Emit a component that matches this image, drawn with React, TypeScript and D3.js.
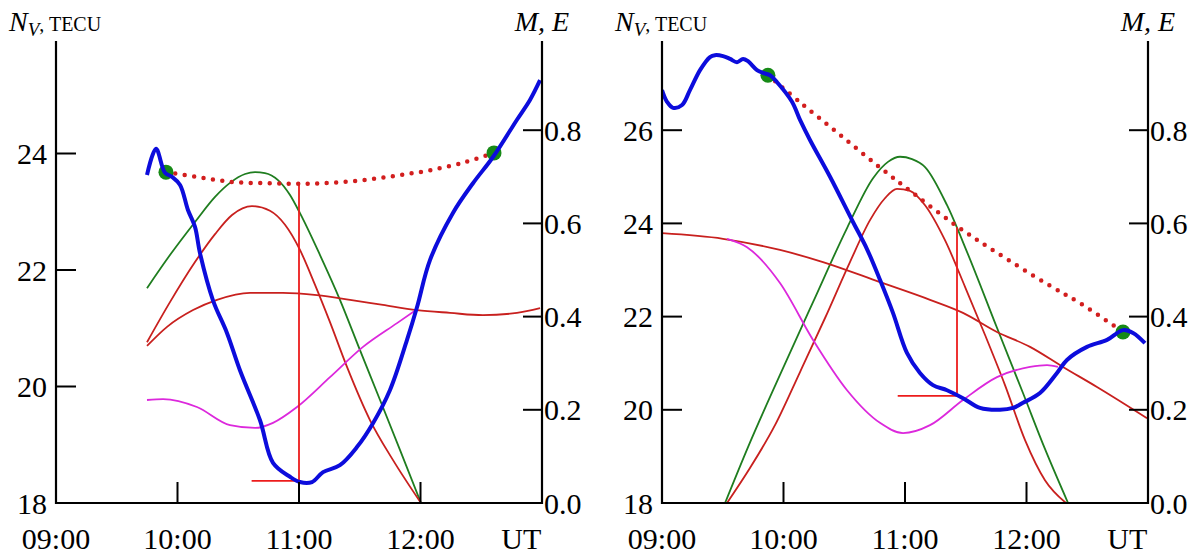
import React from "react";
import * as d3 from "d3";

type Pt = [number, number]; // [UT hour, value]

const FONT = "Liberation Serif";
const FONT_CSS = `svg.nv-chart text, svg.nv-chart tspan { font-family: "Liberation Serif", "Times New Roman", serif !important; }`;

// Shared axis ticks
const hourTicks = [10, 11, 12];
const hourLabels = ["09:00", "10:00", "11:00", "12:00"];
const meTicks = [0.2, 0.4, 0.6, 0.8];
const meLabels = [0, 0.2, 0.4, 0.6, 0.8];
const leftTecTicks = [20, 22, 24];
const leftTecLabels = [18, 20, 22, 24];
const rightTecTicks = [20, 22, 24, 26];
const rightTecLabels = [18, 20, 22, 24, 26];

// ---- Left panel ----
const leftTec: Pt[] = [
  [9.749, 23.63], [9.823, 24.08], [9.897, 23.67], [9.955, 23.6], [10.021, 23.46],
  [10.086, 23.03], [10.144, 22.74], [10.185, 22.29], [10.292, 21.48], [10.407, 20.92],
  [10.514, 20.28], [10.679, 19.42], [10.786, 18.69], [10.926, 18.45], [11.008, 18.36],
  [11.107, 18.36], [11.198, 18.53], [11.337, 18.65], [11.477, 18.96], [11.609, 19.37],
  [11.749, 19.94], [11.889, 20.8], [11.971, 21.36], [12.078, 22.17], [12.267, 22.98],
  [12.432, 23.49], [12.597, 23.94], [12.794, 24.58], [12.901, 24.92], [12.984, 25.26],
];
const leftTrend: Pt[] = [
  [9.905, 23.68], [10.185, 23.59], [10.457, 23.51], [10.737, 23.49], [11.008, 23.48],
  [11.28, 23.5], [11.56, 23.55], [11.83, 23.63], [12.1, 23.72], [12.38, 23.86], [12.605, 24.01],
];
const leftAnchors: Pt[] = [[9.905, 23.68], [12.605, 24.01]];
const leftGreen: Pt[] = [
  [9.749, 0.461], [9.938, 0.532], [10.144, 0.603], [10.309, 0.657], [10.432, 0.687],
  [10.556, 0.706], [10.638, 0.71], [10.72, 0.708], [10.827, 0.693], [10.926, 0.661],
  [11.008, 0.622], [11.173, 0.532], [11.337, 0.436], [11.502, 0.328], [11.667, 0.221],
  [11.831, 0.114], [12.004, 0.0],
];
const leftRedPeak: Pt[] = [
  [9.749, 0.345], [9.938, 0.431], [10.144, 0.517], [10.309, 0.577], [10.449, 0.618],
  [10.613, 0.637], [10.761, 0.627], [10.885, 0.597], [11.008, 0.543], [11.132, 0.468],
  [11.255, 0.388], [11.395, 0.292], [11.584, 0.178], [11.774, 0.092], [12.004, 0.0],
];
const leftRedFlat: Pt[] = [
  [9.749, 0.337], [9.914, 0.378], [10.128, 0.414], [10.325, 0.436], [10.597, 0.451],
  [10.868, 0.451], [11.148, 0.446], [11.42, 0.436], [11.691, 0.425], [11.971, 0.414],
  [12.243, 0.408], [12.514, 0.403], [12.794, 0.408], [12.984, 0.418],
];
const leftMagenta: Pt[] = [
  [9.749, 0.221], [9.881, 0.223], [10.16, 0.206], [10.432, 0.167], [10.638, 0.161],
  [10.786, 0.172], [10.984, 0.206], [11.255, 0.27], [11.527, 0.335], [11.807, 0.386],
  [11.963, 0.414],
];
// [segment start UT, marker UT, top TEC, bottom TEC]
const leftMarker = [10.61, 11.0, 23.48, 18.38];

// ---- Right panel ----
const rightTec: Pt[] = [
  [9.0, 26.86], [9.041, 26.61], [9.091, 26.48], [9.165, 26.54], [9.23, 26.86],
  [9.313, 27.29], [9.395, 27.57], [9.436, 27.61], [9.502, 27.59], [9.56, 27.53],
  [9.617, 27.46], [9.667, 27.53], [9.708, 27.48], [9.782, 27.29], [9.831, 27.23],
  [9.889, 27.18], [9.947, 27.03], [10.07, 26.61], [10.136, 26.22], [10.218, 25.79],
  [10.383, 25.0], [10.572, 24.03], [10.687, 23.45], [10.794, 22.79], [10.901, 22.08],
  [11.016, 21.22], [11.123, 20.79], [11.23, 20.53], [11.346, 20.42], [11.477, 20.25],
  [11.617, 20.04], [11.782, 20.0], [11.889, 20.04], [11.971, 20.15], [12.111, 20.36],
  [12.251, 20.79], [12.333, 21.07], [12.498, 21.35], [12.663, 21.5], [12.794, 21.71],
  [12.877, 21.65], [12.975, 21.43],
];
const rightTrend: Pt[] = [
  [9.872, 27.18], [10.136, 26.6], [10.465, 25.9], [10.794, 25.2], [11.066, 24.65],
  [11.428, 23.94], [11.757, 23.37], [12.169, 22.7], [12.44, 22.29], [12.794, 21.67],
];
const rightAnchors: Pt[] = [[9.872, 27.18], [12.794, 21.67]];
const rightGreen: Pt[] = [
  [9.519, 0.0], [9.708, 0.12], [9.971, 0.275], [10.243, 0.431], [10.523, 0.59],
  [10.737, 0.697], [10.86, 0.732], [10.959, 0.743], [11.058, 0.738], [11.165, 0.721],
  [11.346, 0.639], [11.51, 0.539], [11.757, 0.376], [11.971, 0.236], [12.152, 0.116],
  [12.342, 0.0],
];
const rightRedPeak: Pt[] = [
  [9.535, 0.0], [9.724, 0.075], [9.93, 0.167], [10.136, 0.281], [10.342, 0.397],
  [10.547, 0.517], [10.712, 0.607], [10.835, 0.654], [10.934, 0.674], [11.041, 0.67],
  [11.165, 0.639], [11.329, 0.564], [11.494, 0.464], [11.658, 0.361], [11.823, 0.253],
  [11.988, 0.135], [12.152, 0.049], [12.325, 0.0],
];
const rightRedFlat: Pt[] = [
  [9.0, 0.579], [9.502, 0.567], [9.971, 0.543], [10.325, 0.517], [10.794, 0.474],
  [11.206, 0.436], [11.477, 0.408], [11.757, 0.367], [12.029, 0.335], [12.3, 0.292],
  [12.58, 0.249], [12.992, 0.182],
];
const rightMagenta: Pt[] = [
  [9.535, 0.567], [9.7, 0.549], [9.971, 0.472], [10.243, 0.35], [10.523, 0.242],
  [10.794, 0.172], [10.984, 0.15], [11.206, 0.167], [11.477, 0.221], [11.757, 0.27],
  [12.029, 0.292], [12.169, 0.296], [12.259, 0.292],
];
const rightMarker = [10.94, 11.428, 23.92, 20.3];

const TOP = 37;
const BOTTOM = 503;
const AXIS_TOP = 41;

type PanelProps = {
  id: string;
  x0: number;
  x1: number;
  tecMax: number;
  tecTicks: number[];
  tecLabels: number[];
  tec: Pt[];
  trend: Pt[];
  anchors: Pt[];
  green: Pt[];
  redPeak: Pt[];
  redFlat: Pt[];
  magenta: Pt[];
  marker: number[];
};

function Panel(p: PanelProps) {
  const x = d3.scaleLinear().domain([9, 13]).range([p.x0, p.x1]);
  const yL = d3.scaleLinear().domain([18, p.tecMax]).range([BOTTOM, TOP]);
  const yR = d3.scaleLinear().domain([0, 1]).range([BOTTOM, TOP]);
  const lineL = d3.line<Pt>().x((d) => x(d[0])).y((d) => yL(d[1])).curve(d3.curveCatmullRom.alpha(0.5));
  const lineR = d3.line<Pt>().x((d) => x(d[0])).y((d) => yR(d[1])).curve(d3.curveMonotoneX);
  const [mStart, mT, mTop, mBottom] = p.marker;
  const clip = `clip-${p.id}`;
  const thin = 1.8;
  return (
    <g>
      <defs>
        <clipPath id={clip}>
          <rect x={p.x0} y={TOP - 10} width={p.x1 - p.x0} height={BOTTOM - TOP + 10} />
        </clipPath>
      </defs>
      <g clipPath={`url(#${clip})`}>
        <path d={lineR(p.green) || ""} fill="none" stroke="#1f7d1f" strokeWidth={thin} />
        <path d={lineR(p.redPeak) || ""} fill="none" stroke="#c8201e" strokeWidth={thin} />
        <path d={lineR(p.redFlat) || ""} fill="none" stroke="#c8201e" strokeWidth={thin} />
        <path d={lineR(p.magenta) || ""} fill="none" stroke="#dc28dc" strokeWidth={thin} />
        <line x1={x(mT)} x2={x(mT)} y1={yL(mTop)} y2={yL(mBottom)} stroke="#ec1c1c" strokeWidth={1.8} />
        <line x1={x(mStart)} x2={x(mT)} y1={yL(mBottom)} y2={yL(mBottom)} stroke="#ec1c1c" strokeWidth={1.8} />
        <path
          d={lineL(p.trend) || ""}
          fill="none"
          stroke="#d21e1e"
          strokeWidth={4.5}
          strokeLinecap="round"
          strokeDasharray="0 9.5"
        />
        {p.anchors.map((d, i) => (
          <circle key={i} cx={x(d[0])} cy={yL(d[1])} r={7.5} fill="#168a16" />
        ))}
        <path d={lineL(p.tec) || ""} fill="none" stroke="#0c0cdc" strokeWidth={4} strokeLinejoin="round" />
      </g>

      {/* axes frame */}
      <line x1={p.x0} x2={p.x0} y1={AXIS_TOP} y2={BOTTOM + 1} stroke="#000" strokeWidth={2.2} />
      <line x1={p.x1} x2={p.x1} y1={AXIS_TOP} y2={BOTTOM + 1} stroke="#000" strokeWidth={2.2} />
      <line x1={p.x0 - 1} x2={p.x1 + 1} y1={BOTTOM} y2={BOTTOM} stroke="#000" strokeWidth={2.2} />

      {p.tecTicks.map((t) => (
        <line key={`lt${t}`} x1={p.x0} x2={p.x0 + 20} y1={yL(t)} y2={yL(t)} stroke="#000" strokeWidth={2} />
      ))}
      {meTicks.map((t) => (
        <line key={`rt${t}`} x1={p.x1 - 19} x2={p.x1} y1={yR(t)} y2={yR(t)} stroke="#000" strokeWidth={2} />
      ))}
      {hourTicks.map((h) => (
        <line key={`bt${h}`} x1={x(h)} x2={x(h)} y1={BOTTOM} y2={BOTTOM - 21} stroke="#000" strokeWidth={2} />
      ))}

      {p.tecLabels.map((t) => (
        <text key={`ll${t}`} x={p.x0 - 9} y={yL(t) + 10.5} textAnchor="end" fontFamily={FONT} fontSize={30}>
          {String(t)}
        </text>
      ))}
      {meLabels.map((t) => (
        <text key={`rl${t}`} x={p.x1 + 2} y={yR(t) + 10.5} textAnchor="start" fontFamily={FONT} fontSize={30}>
          {t.toFixed(1)}
        </text>
      ))}
      {hourLabels.map((s, i) => (
        <text key={s} x={x(9 + i)} y={549} textAnchor="middle" fontFamily={FONT} fontSize={30}>
          {s}
        </text>
      ))}
      <text x={x(12.83)} y={549} textAnchor="middle" fontFamily={FONT} fontSize={30}>
        UT
      </text>

      <text x={p.x0 - 47} y={31} fontFamily={FONT} fontSize={28} fontStyle="italic">
        N
        <tspan fontSize={19} dy={5}>
          V
        </tspan>
        <tspan fontStyle="normal" fontSize={20} dy={-5}>
          , TECU
        </tspan>
      </text>
      <text x={p.x1} y={31} fontFamily={FONT} fontSize={28} fontStyle="italic" textAnchor="middle">
        M, E
      </text>
    </g>
  );
}

export default function App() {
  return (
    <svg
      className="nv-chart"
      width={1198}
      height={557}
      fontFamily={FONT}
      style={{ position: "absolute", left: 0, top: 0 }}
    >
      <style>{FONT_CSS}</style>
      <rect width={1198} height={557} fill="#fff" />
      <Panel
        id="a"
        x0={56}
        x1={542}
        tecMax={26}
        tecTicks={leftTecTicks}
        tecLabels={leftTecLabels}
        tec={leftTec}
        trend={leftTrend}
        anchors={leftAnchors}
        green={leftGreen}
        redPeak={leftRedPeak}
        redFlat={leftRedFlat}
        magenta={leftMagenta}
        marker={leftMarker}
      />
      <Panel
        id="b"
        x0={662}
        x1={1148}
        tecMax={28}
        tecTicks={rightTecTicks}
        tecLabels={rightTecLabels}
        tec={rightTec}
        trend={rightTrend}
        anchors={rightAnchors}
        green={rightGreen}
        redPeak={rightRedPeak}
        redFlat={rightRedFlat}
        magenta={rightMagenta}
        marker={rightMarker}
      />
    </svg>
  );
}
